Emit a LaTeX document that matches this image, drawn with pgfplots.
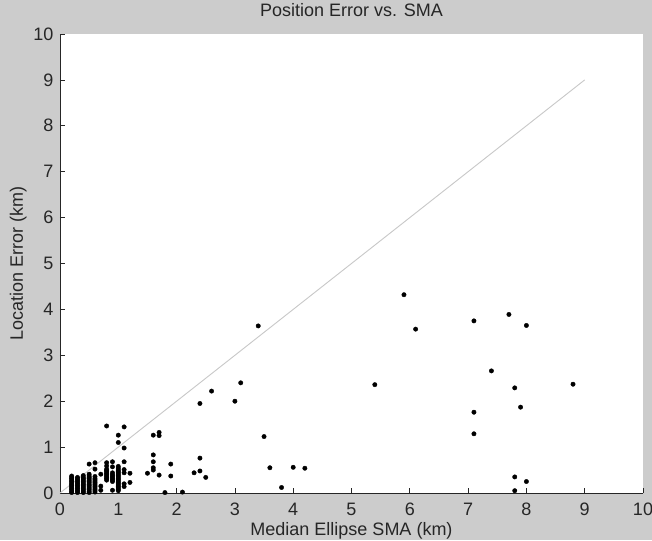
\documentclass[border=0pt]{standalone}
\usepackage{pgfplots}
\pgfplotsset{compat=1.18}
\usepackage{pgfplotstable}
\usepackage{fontspec}
\setmainfont{Liberation Sans}
\definecolor{figgray}{RGB}{204,204,204}
\definecolor{diagline}{RGB}{200,200,200}

\pgfplotstableread{
x y
0.2 0.01
0.2 0.04
0.2 0.07
0.2 0.10
0.2 0.13
0.2 0.16
0.2 0.19
0.2 0.22
0.2 0.25
0.2 0.28
0.2 0.31
0.2 0.34
0.2 0.37
0.3 0.01
0.3 0.04
0.3 0.07
0.3 0.10
0.3 0.13
0.3 0.16
0.3 0.19
0.3 0.22
0.3 0.25
0.3 0.28
0.3 0.31
0.3 0.34
0.4 0.01
0.4 0.04
0.4 0.07
0.4 0.10
0.4 0.13
0.4 0.16
0.4 0.19
0.4 0.22
0.4 0.25
0.4 0.28
0.4 0.31
0.4 0.34
0.4 0.38
0.5 0.01
0.5 0.04
0.5 0.07
0.5 0.10
0.5 0.13
0.5 0.16
0.5 0.19
0.5 0.22
0.5 0.25
0.5 0.28
0.5 0.31
0.5 0.34
0.5 0.37
0.5 0.41
0.5 0.63
0.6 0.02
0.6 0.05
0.6 0.08
0.6 0.11
0.6 0.14
0.6 0.17
0.6 0.20
0.6 0.23
0.6 0.26
0.6 0.29
0.6 0.32
0.6 0.36
0.6 0.52
0.6 0.66
0.7 0.06
0.7 0.15
0.7 0.41
0.8 0.28
0.8 0.31
0.8 0.34
0.8 0.37
0.8 0.40
0.8 0.43
0.8 0.46
0.8 0.49
0.8 0.52
0.8 0.59
0.8 0.66
0.8 1.46
0.9 0.06
0.9 0.25
0.9 0.28
0.9 0.31
0.9 0.34
0.9 0.37
0.9 0.40
0.9 0.44
0.9 0.57
0.9 0.68
1.0 0.05
1.0 0.08
1.0 0.11
1.0 0.14
1.0 0.17
1.0 0.20
1.0 0.23
1.0 0.26
1.0 0.29
1.0 0.32
1.0 0.35
1.0 0.38
1.0 0.41
1.0 0.44
1.0 0.47
1.0 0.50
1.0 0.54
1.0 0.58
1.0 1.10
1.0 1.26
1.1 0.14
1.1 0.20
1.1 0.44
1.1 0.51
1.1 0.68
1.1 0.98
1.1 1.44
1.2 0.23
1.2 0.43
1.5 0.43
1.6 0.50
1.6 0.55
1.6 0.68
1.6 0.83
1.6 1.26
1.7 0.39
1.7 1.25
1.7 1.32
1.8 0.01
1.9 0.37
1.9 0.63
2.1 0.02
2.3 0.44
2.4 0.48
2.4 0.76
2.4 1.95
2.5 0.34
2.6 2.22
3.0 2.00
3.1 2.40
3.4 3.64
3.5 1.23
3.6 0.55
3.8 0.12
4.0 0.56
4.2 0.54
5.4 2.36
5.9 4.32
6.1 3.57
7.1 3.75
7.1 1.76
7.1 1.29
7.4 2.66
7.7 3.89
7.8 2.29
7.8 0.35
7.8 0.05
7.9 1.87
8.0 3.65
8.0 0.25
8.8 2.37
}\sma

\begin{document}
\fontsize{18pt}{21pt}\selectfont
\begin{tikzpicture}
\fill[figgray] (-60pt,-47pt) rectangle (592pt,493pt);
\path[use as bounding box] (-60pt,-47pt) rectangle (592pt,493pt);
\begin{axis}[
  at={(0pt,0pt)}, anchor=south west,
  scale only axis, width=583pt, height=459pt,
  xmin=0, xmax=10, ymin=0, ymax=10,
  axis x line=bottom, axis y line=left,
  axis line style={-, black!85, line width=0.7pt},
  axis background/.style={fill=white},
  tick align=inside, major tick length=5pt,
  tick style={black!85, line width=0.7pt},
  xtick={0,1,...,10}, ytick={0,1,...,10},
  /pgf/number format/assume math mode=true,
  xticklabel style={inner sep=0pt, anchor=north, yshift=-10pt, text=black!85},
  yticklabel style={inner sep=0pt, anchor=east, xshift=-6.5pt, text=black!85},
  title={Position Error vs. SMA},
  title style={at={(axis description cs:0.5,1.024)}, anchor=base, inner sep=0pt, text=black!85},
  xlabel={Median Ellipse SMA (km)},
  xlabel style={at={(axis description cs:0.5,-0.092)}, anchor=base, inner sep=0pt, text=black!85},
  ylabel={Location Error (km)},
  ylabel style={at={(axis description cs:-0.0635,0.5)}, rotate=0, anchor=base, inner sep=0pt, text=black!85},
]
\addplot[diagline, line width=0.9pt] coordinates {(0,0) (9,9)};
\addplot[only marks, mark=*, mark size=2.2pt, black] table[x=x, y=y] {\sma};
\end{axis}
\end{tikzpicture}
\end{document}
